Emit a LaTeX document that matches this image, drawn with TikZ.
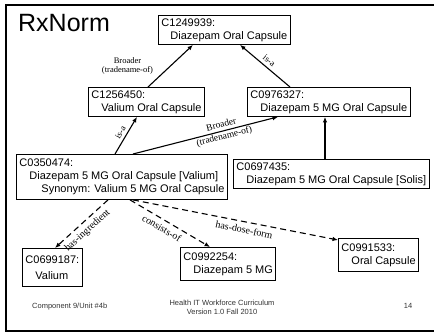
\documentclass[tikz,border=0pt]{standalone}
\usepackage{fontspec}
\setmainfont{Liberation Sans}
\newfontfamily\seriff{Liberation Serif}
\usetikzlibrary{arrows.meta}
\begin{document}
\begin{tikzpicture}[x=1pt,y=-1pt,
  box/.style={draw, line width=0.9pt, anchor=north west, align=left, inner xsep=3pt, inner ysep=3pt, font=\fontsize{11}{13}\selectfont},
  rel/.style={line width=1.1pt, -{Latex[length=5.5pt,width=4.5pt]}},
  dsh/.style={rel, dash pattern=on 6pt off 4pt},
  lbl/.style={font=\seriff\fontsize{8.5}{9.5}\selectfont, inner sep=1pt},
  lblb/.style={font=\seriff\fontsize{10}{11}\selectfont, inner sep=1pt},
  foot/.style={font=\fontsize{7.5}{9}\selectfont, text=black!80, inner sep=0pt}]
\useasboundingbox (0,0) rectangle (434,334);
\draw[line width=2.5pt, line join=miter] (434,5) -- (6,5) -- (6,331) -- (434,331);
\node[anchor=base west, font=\fontsize{25}{30}\selectfont, inner sep=0pt] (title) at (18,32) {RxNorm};

\node[box] (A) at (158,15) {C1249939:\\\hspace{9pt}Diazepam Oral Capsule};
\node[box] (B) at (88,87) {C1256450:\\\hspace{10pt}Valium Oral Capsule};
\node[box] (C) at (247,87) {C0976327:\\\hspace{10pt}Diazepam 5 MG Oral Capsule};
\node[box, minimum height=45pt] (D) at (16,154) {C0350474:\\\hspace{10pt}Diazepam 5 MG Oral Capsule [Valium]\\\hspace{22pt}Synonym: Valium 5 MG Oral Capsule};
\node[box] (E) at (233,159) {C0697435:\\\hspace{10pt}Diazepam 5 MG Oral Capsule [Solis]};
\node[box, font=\fontsize{11}{16}\selectfont, minimum height=38pt] (F) at (22,248) {C0699187:\\\hspace{10pt}Valium};
\node[box, minimum height=33pt] (G) at (180,247) {C0992254:\\\hspace{10pt}Diazepam 5 MG};
\node[box, minimum height=33pt] (H) at (338,238) {C0991533:\\\hspace{10pt}Oral Capsule};

\draw[rel] ([xshift=60pt]B.north west) -- ([xshift=35pt]A.south west)
  node[lbl, pos=0.5, left=16pt, align=center] (l1) {Broader\\(tradename-of)};
\draw[rel] ([xshift=43pt]C.north west) -- ([xshift=82pt]A.south west)
  node[lbl, font=\seriff\fontsize{9}{10}\selectfont, pos=0.5, sloped, above=2pt] (l2) {is-a};
\draw[rel] ([xshift=99pt]D.north west) -- ([xshift=49pt]B.south west)
  node[lbl, font=\seriff\fontsize{9}{10}\selectfont, pos=0.5, sloped, above=2pt] (l3) {is-a};
\draw[rel] ([xshift=117pt]D.north west) -- ([xshift=31pt]C.south west)
  node[lblb, font=\seriff\fontsize{9.5}{12}\selectfont, pos=0.62, sloped, align=center] (l4) {Broader\\(tradename-of)};
\draw[rel] ([xshift=92pt]E.north west) -- ([xshift=92pt]E.north west |- C.south);

\draw[dsh] ([xshift=92pt]D.south west) -- ([xshift=33pt]F.north west)
  node[lblb, pos=0.5, sloped, below=3pt] (l5) {has-ingredient};
\draw[dsh] ([xshift=114pt]D.south west) -- ([xshift=30pt]G.north west)
  node[lblb, pos=0.45, sloped, below=3pt] (l6) {consists-of};
\draw[dsh] ([xshift=117pt]D.south west) -- ([yshift=-2pt]H.north west)
  node[lblb, pos=0.55, sloped, below=3pt] (l7) {has-dose-form};

\node[foot, anchor=base west] (f1) at (32,308) {Component 9/Unit \#4b};
\node[foot, anchor=base] (f2) at (222,305) {Health IT Workforce Curriculum};
\node[foot, anchor=base] (f3) at (222,314) {Version 1.0 Fall 2010};
\node[foot, anchor=base] (f4) at (408,308) {14};
\end{tikzpicture}
\end{document}
